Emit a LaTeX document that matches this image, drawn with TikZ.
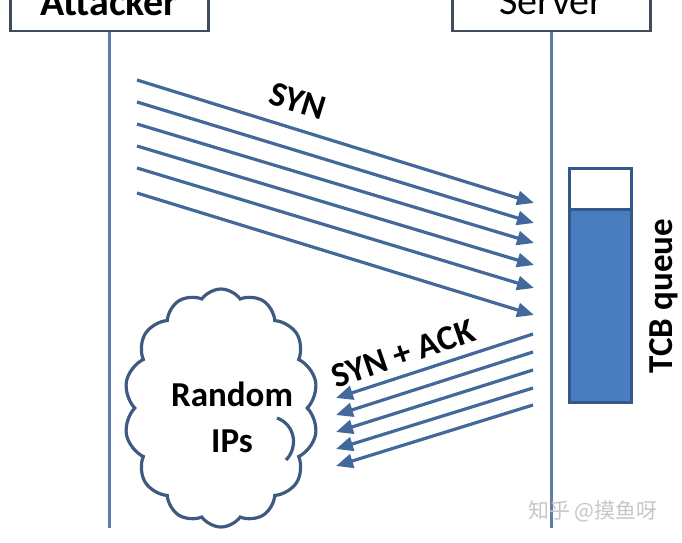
\documentclass[tikz,border=0pt]{standalone}
\usepackage{fontspec}
\setmainfont{Carlito}
\newfontfamily\cjkfont{Noto Sans CJK SC}
\usetikzlibrary{arrows.meta,shapes.symbols}
\definecolor{lifeblue}{HTML}{5F7BA8}
\definecolor{arrowblue}{HTML}{43699C}
\definecolor{boxedge}{HTML}{3F4C5C}
\definecolor{cloudedge}{HTML}{3E5A80}
\definecolor{qfill}{HTML}{4A7CC0}
\definecolor{qedge}{HTML}{34588A}
\begin{document}
\begin{tikzpicture}[x=1pt,y=-1pt,
  hdr/.style={draw=boxedge, line width=2.4pt, fill=white, minimum width=198pt, minimum height=62pt, inner sep=0pt},
  hdrtext/.style={font=\fontsize{40}{40}\selectfont, anchor=base, inner sep=0pt},
  life/.style={draw=lifeblue, line width=3.2pt},
  msg/.style={draw=arrowblue, line width=3.2pt, -{Triangle[length=17pt,width=14pt]}},
  lbl/.style={font=\fontsize{35}{46}\selectfont\bfseries, text=black}
]
\useasboundingbox (0,0) rectangle (682,542);

% header boxes
\node[hdr, anchor=south] (att) at (109.3,32) {};
\node[hdrtext] (atttxt) at (109.3,15) {\bfseries Attacker};
\node[hdr, anchor=south] (srv) at (551.5,32) {};
\node[hdrtext] (srvtxt) at (551.5,14) {Server};

% lifelines
\coordinate (aend) at (109.3,528);
\coordinate (send) at (551.5,528);
\draw[life] (att.south) -- (aend);
\draw[life] (srv.south) -- (send);

% SYN arrows
\foreach \i/\ys/\ye in {1/80/203, 2/102/223, 3/124/243, 4/146/265, 5/168/288, 6/193/315}{
  \coordinate (s\i) at (137,\ys);
  \coordinate (e\i) at (534,\ye);
  \draw[msg] (s\i) -- (e\i);
}
\node[lbl, rotate=-17] (synlbl) at (298,101) {SYN};

% SYN+ACK arrows
\foreach \i/\ys/\ye in {1/334/398, 2/352/415, 3/370/432, 4/388/449, 5/405/466}{
  \coordinate (r\i) at (533,\ys);
  \coordinate (t\i) at (336,\ye);
  \draw[msg] (r\i) -- (t\i);
}
\node[lbl, rotate=19] (acklbl) at (403,354) {SYN + ACK};

% cloud
\node[cloud, draw=cloudedge, line width=3.2pt, fill=white, cloud puffs=14, cloud puff arc=110,
      aspect=0.82, minimum width=194pt, minimum height=238pt, inner sep=0pt] (cloud) at (221,408) {};
\draw[draw=cloudedge, line width=3.2pt] (277,418) .. controls (296,425) and (298,448) .. (286,460);
\node[lbl, align=center] (cloudtxt) at (232,417) {Random\\IPs};

% TCB queue
\node[draw=qedge, fill=qfill, line width=3pt, minimum width=62pt, minimum height=234pt, inner sep=0pt, anchor=north west] (queue) at (568,167) {};
\node[draw=qedge, fill=white, line width=3pt, minimum width=62pt, minimum height=41pt, inner sep=0pt, anchor=north west] (qtop) at (568,167) {};
\node[lbl, rotate=90] (tcblbl) at (664,296) {TCB queue};

% watermark
\node[font=\cjkfont\fontsize{21}{21}\selectfont, text=gray!45] (wm) at (593,511) {知乎 @摸鱼呀};
\end{tikzpicture}
\end{document}
